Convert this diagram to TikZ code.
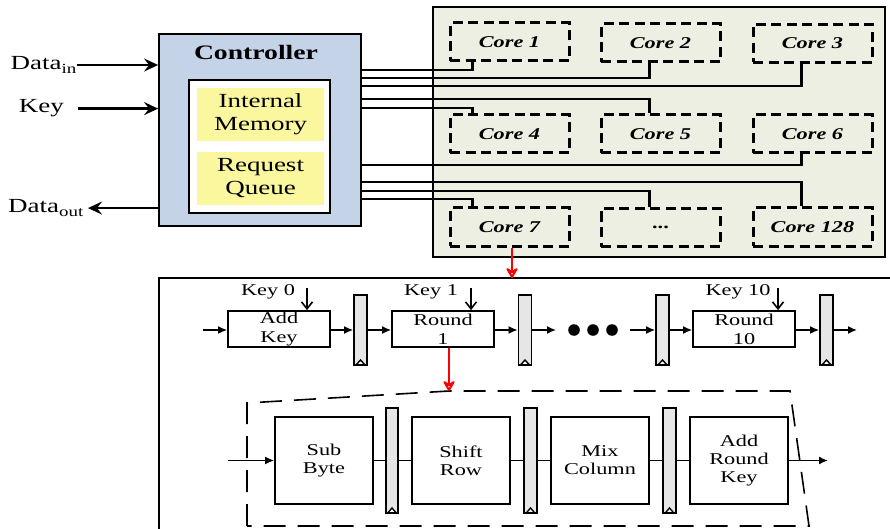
\documentclass[tikz,border=0pt]{standalone}
\usepackage{fontspec}
\setmainfont{Liberation Serif}[FakeStretch=1.35]
\usetikzlibrary{arrows.meta,calc}

\definecolor{ctrlblue}{RGB}{197,211,233}
\definecolor{memyellow}{RGB}{250,247,158}
\definecolor{panelbg}{RGB}{238,239,227}
\definecolor{reggray}{RGB}{230,230,230}

\begin{document}
\begin{tikzpicture}[x=1pt,y=-1pt,
  wire/.style={line width=2.7pt},
  bigarrow/.style={line width=2.4pt,-{Stealth[length=14pt,width=13pt,inset=5pt]}},
  corebox/.style={draw,line width=3pt,dash pattern=on 10pt off 5.5pt,
    minimum width=119pt,minimum height=38pt,inner sep=0pt,
    font=\fontsize{16.5}{19}\selectfont\bfseries\itshape},
  yellowbox/.style={fill=memyellow,minimum width=127pt,minimum height=53pt,
    inner sep=0pt,align=center,font=\fontsize{20}{23}\selectfont},
  stagebox/.style={draw,line width=1.7pt,minimum width=102pt,minimum height=36pt,
    inner sep=0pt,align=center,font=\fontsize{16.5}{19}\selectfont},
  opbox/.style={draw,line width=1.7pt,minimum width=98pt,minimum height=87pt,
    inner sep=0pt,align=center,font=\fontsize{16.5}{18}\selectfont},
  reg/.style={draw,line width=1.7pt,fill=reggray,inner sep=0pt,
    path picture={\draw[line width=1.4pt,fill=white]
      ([xshift=2pt]path picture bounding box.south west) --
      ([yshift=5pt]path picture bounding box.south) --
      ([xshift=-2pt]path picture bounding box.south east) -- cycle;}},
  upreg/.style={reg,minimum width=13pt,minimum height=70pt},
  lowreg/.style={reg,minimum width=12.5pt,minimum height=105pt},
  flow/.style={line width=1.6pt,-{Latex[length=9pt,width=8pt]}},
  plain/.style={line width=1.6pt},
  keyarrow/.style={line width=1.6pt,-{Straight Barb[length=7pt,width=11pt]}},
  redarrow/.style={red,line width=2.8pt,-{Stealth[open,length=13pt,width=15pt,inset=5pt,line join=round]}},
  keylabel/.style={font=\fontsize{16.5}{19}\selectfont,inner sep=0pt},
  iolabel/.style={font=\fontsize{20}{22}\selectfont,inner sep=0pt}
]
\useasboundingbox (0,0) rectangle (890,529);
\clip (0,0) rectangle (890,529);
\fill[white] (0,0) rectangle (890,529);

% ---------- controller ----------
\node[draw,line width=1.8pt,fill=ctrlblue,minimum width=202pt,minimum height=192pt,inner sep=0pt] (ctrl) at (260,130) {};
\node[font=\fontsize{20.5}{24}\selectfont\bfseries] (ctitle) at (256,52) {Controller};
\node[draw,line width=1.8pt,fill=white,minimum width=141pt,minimum height=133pt,inner sep=0pt] (inner) at (259.5,146.5) {};
\node[yellowbox] (mem) at (260.5,114.5) {Internal\\Memory};
\node[yellowbox] (queue) at (260.5,178.5) {Request\\Queue};

% ---------- inputs and output ----------
\node[iolabel,anchor=base east] (din) at (77,70) {Data\textsubscript{in}};
\node[iolabel,anchor=base east,inner xsep=14pt] (kin) at (78,113) {Key};
\node[iolabel,anchor=base east,inner xsep=4pt] (dout) at (88,213) {Data\textsubscript{out}};
\draw[bigarrow] (din.east) -- (ctrl.west |- din.east);
\draw[bigarrow] (kin.east) -- (ctrl.west |- kin.east);
\draw[bigarrow] (ctrl.west |- dout.east) -- (dout.east);

% ---------- core array ----------
\node[draw,line width=1.8pt,fill=panelbg,minimum width=452pt,minimum height=250pt,inner sep=0pt] (panel) at (659,132) {};

\node[corebox] (c1) at (509.5,42) {Core 1};
\node[corebox] (c2) at (660.5,43) {Core 2};
\node[corebox] (c3) at (812.5,43.5) {Core 3};
\node[corebox] (c4) at (509.5,134) {Core 4};
\node[corebox] (c5) at (660.5,134) {Core 5};
\node[corebox] (c6) at (812.5,134) {Core 6};
\node[corebox] (c7) at (509.5,227) {Core 7};
\node[corebox] (cdots) at (660.5,227.5) {\textbf{\upshape ...}};
\node[corebox] (c128) at (812.5,227) {Core 128};

% controller-to-core buses
\draw[wire] (ctrl.east |- 0,70)  -| ($(c1.south west)+(24,0)$);
\draw[wire] (ctrl.east |- 0,78)  -| ($(c2.south west)+(50,0)$);
\draw[wire] (ctrl.east |- 0,86)  -| ($(c3.south west)+(50,0)$);
\draw[wire] (ctrl.east |- 0,99)  -| ($(c5.north west)+(50,0)$);
\draw[wire] (ctrl.east |- 0,108) -| ($(c4.north west)+(24,0)$);
\draw[wire] (ctrl.east |- 0,165) -| ($(c6.south west)+(50,0)$);
\draw[wire] (ctrl.east |- 0,182) -| ($(c128.north west)+(50,0)$);
\draw[wire] (ctrl.east |- 0,191) -| ($(cdots.north west)+(50,0)$);
\draw[wire] (ctrl.east |- 0,199) -| ($(c7.north west)+(24,0)$);

% ---------- one core: AES pipeline ----------
\coordinate (lowtl) at (159,278);
\draw[line width=1.6pt] (900,278) -- (lowtl) -- (159,540);
\coordinate (c7out) at ($(c7.south)+(2.5,0)$);
\draw[redarrow] (c7out) -- (c7out |- lowtl);

\node[stagebox] (addkey) at (279,329) {Add\\Key};
\node[stagebox] (r1) at (443,329) {Round\\1};
\node[stagebox] (r10) at (744,329) {Round\\10};
\node[upreg] (q1) at (360.5,330) {};
\node[upreg] (q2) at (525,330) {};
\node[upreg] (q3) at (662.5,330) {};
\node[upreg] (q4) at (826.5,330) {};
\foreach \cx [count=\i] in {574,593,612}
  \fill (\cx,330) circle (5.8pt) coordinate (dot\i);

\coordinate (pin) at (203,330);
\coordinate (pout) at (857,330);
\coordinate (dotsin) at (556,330);
\coordinate (dotsout) at (630,330);
\draw[flow] (pin) -- (addkey.west |- pin);
\draw[flow] (addkey.east |- pin) -- (q1);
\draw[flow] (q1) -- (r1.west |- q1);
\draw[flow] (r1.east |- q1) -- (q2);
\draw[flow] (q2) -- (dotsin);
\draw[flow] (dotsout) -- (q3);
\draw[flow] (q3) -- (r10.west |- q3);
\draw[flow] (r10.east |- q3) -- (q4);
\draw[flow] (q4) -- (pout);

\node[keylabel] (k0l) at (268,292) {Key 0};
\node[keylabel] (k1l) at (431,292) {Key 1};
\node[keylabel] (k10l) at (738,292) {Key 10};
\coordinate (k0) at (307,288);
\coordinate (k1) at (471,288);
\coordinate (k10) at (778,288);
\draw[keyarrow] (k0) -- (k0 |- addkey.north);
\draw[keyarrow] (k1) -- (k1 |- r1.north);
\draw[keyarrow] (k10) -- (k10 |- r10.north);

% ---------- one round: expanded ----------
\coordinate (dtop) at (449,391);
\draw[line width=1.6pt,dash pattern=on 22pt off 12pt]
  (247,526) -- (247,403) -- (dtop) -- (790,391) -- (809,526) -- cycle;
\draw[redarrow] (r1.south -| dtop) -- (dtop);

\node[opbox] (sub) at (324,460.5) {Sub\\Byte};
\node[opbox] (shift) at (461,460.5) {Shift\\Row};
\node[opbox] (mix) at (600,460.5) {Mix\\Column};
\node[opbox] (ark) at (739,460.5) {Add\\Round\\Key};
\node[lowreg] (qa) at (392,460.5) {};
\node[lowreg] (qb) at (530.5,460.5) {};
\node[lowreg] (qc) at (669.5,460.5) {};

\coordinate (rin) at (228,460.5);
\coordinate (rout) at (828,460.5);
\draw[flow] (rin) -- (sub);
\draw[plain] (sub) -- (qa);
\draw[plain] (qa) -- (shift);
\draw[plain] (shift) -- (qb);
\draw[plain] (qb) -- (mix);
\draw[plain] (mix) -- (qc);
\draw[plain] (qc) -- (ark);
\draw[flow] (ark) -- (rout);
\end{tikzpicture}
\end{document}
